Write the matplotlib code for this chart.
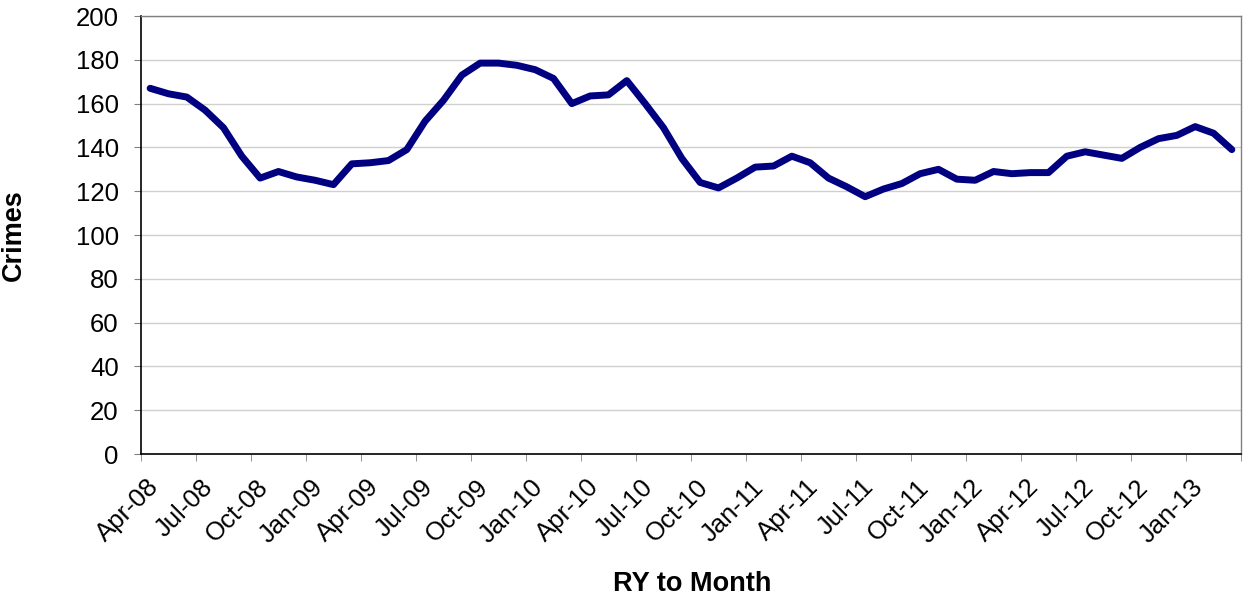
import numpy as np
import matplotlib
matplotlib.use("Agg")
from matplotlib import pyplot as plt
from matplotlib import transforms

# monthly values, Apr-08 .. Mar-13
months = ["Apr-08", "May-08", "Jun-08", "Jul-08", "Aug-08", "Sep-08", "Oct-08", "Nov-08", "Dec-08",
          "Jan-09", "Feb-09", "Mar-09", "Apr-09", "May-09", "Jun-09", "Jul-09", "Aug-09", "Sep-09",
          "Oct-09", "Nov-09", "Dec-09", "Jan-10", "Feb-10", "Mar-10", "Apr-10", "May-10", "Jun-10",
          "Jul-10", "Aug-10", "Sep-10", "Oct-10", "Nov-10", "Dec-10", "Jan-11", "Feb-11", "Mar-11",
          "Apr-11", "May-11", "Jun-11", "Jul-11", "Aug-11", "Sep-11", "Oct-11", "Nov-11", "Dec-11",
          "Jan-12", "Feb-12", "Mar-12", "Apr-12", "May-12", "Jun-12", "Jul-12", "Aug-12", "Sep-12",
          "Oct-12", "Nov-12", "Dec-12", "Jan-13", "Feb-13", "Mar-13"]
crimes = [167, 164.5, 163, 157, 149, 136, 126, 129, 126.5, 125, 123, 132.5, 133, 134, 139,
          152, 161.5, 173, 178.5, 178.5, 177.5, 175.5, 171.5, 160, 163.5, 164, 170.5, 160,
          149, 135, 124, 121.5, 126, 131, 131.5, 136, 133, 126, 122, 117.5, 121, 123.5,
          128, 130, 125.5, 125, 129, 128, 128.5, 128.5, 136, 138, 136.5, 135, 140,
          144, 145.5, 149.5, 146.5, 139]

yticks = list(range(0, 201, 20))
tick_labels = months[::3]

plt.rcParams['font.family'] = ['Liberation Sans', 'DejaVu Sans']

fig = plt.figure(figsize=(12.43, 6), dpi=100)
ax = fig.add_axes([0.1134, 0.2433, 0.8850, 0.7300])

x = np.arange(len(crimes))
ax.plot(x, crimes, color='#000080', linewidth=5, solid_joinstyle='round', solid_capstyle='round', zorder=3)

ax.set_xlim(-0.5, len(crimes) - 0.5)
ax.set_ylim(0, 200)
ax.set_yticks(yticks)
ax.set_yticklabels([str(v) for v in yticks], fontsize=18.5)
ax.grid(axis='y', color='#d0d0d0', linewidth=1)
ax.set_axisbelow(True)

ax.set_xticks(x[::3])
ax.set_xticklabels(tick_labels, rotation=45, ha='right', rotation_mode='anchor', fontsize=18.5)
ax.tick_params(axis='x', which='major', length=0, pad=15)
ax.set_xticks(np.arange(-0.5, len(crimes), 3), minor=True)
ax.tick_params(axis='x', which='minor', length=5, color='#808080', direction='out')
ax.tick_params(axis='y', length=5, color='#808080', direction='out', pad=11)

shift = transforms.ScaledTranslation(-4 / 100, 0, fig.dpi_scale_trans)
for lab in ax.get_xticklabels():
    lab.set_transform(lab.get_transform() + shift)

for s in ['left', 'bottom']:
    ax.spines[s].set_color('black')
    ax.spines[s].set_linewidth(1.2)
for s in ['top', 'right']:
    ax.spines[s].set_color('#808080')
    ax.spines[s].set_linewidth(1)

ax.set_ylabel('Crimes', fontsize=19.5, fontweight='bold', va='center')
ax.yaxis.set_label_coords((14 - 141) / 1100, 0.5)
ax.set_xlabel('RY to Month', fontsize=19.5, fontweight='bold', va='center')
ax.xaxis.set_label_coords((692 - 141) / 1100, (454 - 584) / 438)

plt.savefig('out.png', dpi=100)
